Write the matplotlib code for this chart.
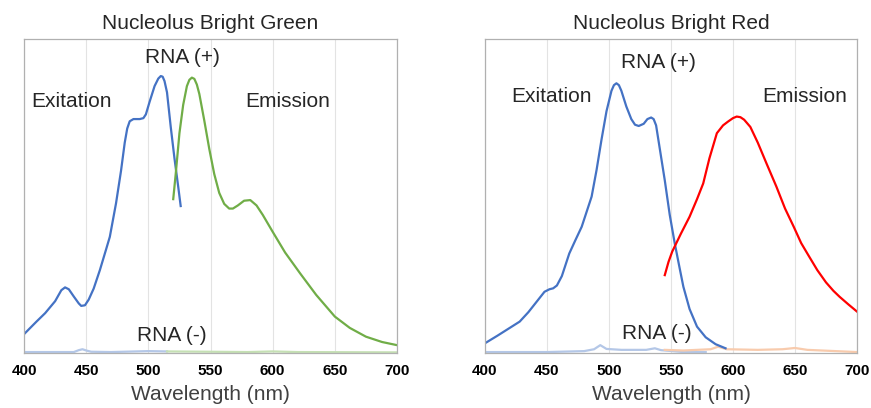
import matplotlib.pyplot as plt

plt.rcParams['font.family'] = ['Liberation Sans', 'DejaVu Sans']

# Nucleolus Bright Green
g_ex_wl = [400, 410, 417, 425, 430, 433, 436, 440, 444, 446, 449, 452, 456, 461, 466, 469, 474,
           478, 481, 483, 485, 488, 493, 496, 498, 501, 505, 508, 510, 511.5, 513, 515, 518, 521,
           524, 526]
g_ex = [0.060, 0.100, 0.127, 0.165, 0.200, 0.209, 0.203, 0.180, 0.158, 0.150, 0.152, 0.170, 0.205,
        0.264, 0.330, 0.370, 0.477, 0.580, 0.670, 0.715, 0.738, 0.745, 0.745, 0.748, 0.760, 0.800,
        0.850, 0.874, 0.882, 0.880, 0.866, 0.830, 0.720, 0.620, 0.530, 0.468]
g_em_wl = [520, 522, 525, 528, 531, 533, 535, 537, 539, 541, 545, 549, 553, 557, 561, 565, 568,
           572, 577, 582, 587, 592, 600, 610, 622, 635, 650, 662, 675, 688, 700]
g_em = [0.490, 0.570, 0.700, 0.790, 0.850, 0.870, 0.877, 0.873, 0.855, 0.825, 0.740, 0.650, 0.570,
        0.510, 0.475, 0.460, 0.460, 0.470, 0.485, 0.487, 0.470, 0.440, 0.386, 0.320, 0.254, 0.185,
        0.116, 0.080, 0.052, 0.035, 0.025]
g_ex_neg_wl = [400, 440, 444, 447, 450, 454, 470, 500, 515]
g_ex_neg = [0.003, 0.003, 0.009, 0.012, 0.008, 0.004, 0.003, 0.006, 0.005]
g_em_neg_wl = [515, 550, 580, 600, 620, 700]
g_em_neg = [0.005, 0.004, 0.003, 0.005, 0.003, 0.002]

# Nucleolus Bright Red
r_ex_wl = [400, 410, 420, 428, 435, 442, 448, 452, 455, 458, 462, 468, 473, 478, 482, 486, 490,
           494, 498, 502, 504, 506, 508, 510, 514, 518, 521, 524, 528, 531, 534, 536, 538, 541,
           545, 549, 553, 557, 560, 565, 571, 578, 586, 594]
r_ex = [0.031, 0.055, 0.080, 0.100, 0.130, 0.165, 0.195, 0.203, 0.206, 0.215, 0.245, 0.317, 0.360,
        0.402, 0.450, 0.498, 0.583, 0.680, 0.770, 0.835, 0.853, 0.859, 0.853, 0.835, 0.785, 0.745,
        0.727, 0.723, 0.730, 0.745, 0.750, 0.745, 0.725, 0.650, 0.550, 0.440, 0.350, 0.270, 0.211,
        0.140, 0.084, 0.050, 0.028, 0.015]
r_em_wl = [545, 548, 551, 558, 565, 571, 576, 581, 587, 592, 596, 600, 603, 606, 609, 614, 620,
           627, 635, 642, 649, 655, 661, 668, 675, 681, 686, 693, 700]
r_em = [0.248, 0.290, 0.323, 0.380, 0.434, 0.490, 0.540, 0.620, 0.700, 0.725, 0.737, 0.748, 0.753,
        0.751, 0.743, 0.720, 0.670, 0.604, 0.530, 0.460, 0.402, 0.350, 0.310, 0.264, 0.225, 0.198,
        0.179, 0.155, 0.132]
r_ex_neg_wl = [400, 450, 480, 488, 493, 498, 510, 530, 537, 542, 560, 578]
r_ex_neg = [0.003, 0.003, 0.006, 0.012, 0.025, 0.013, 0.010, 0.010, 0.015, 0.009, 0.003, 0.003]
r_em_neg_wl = [545, 560, 582, 588, 595, 620, 640, 650, 660, 700]
r_em_neg = [0.010, 0.008, 0.012, 0.020, 0.012, 0.010, 0.012, 0.016, 0.010, 0.003]

xticks = [400, 450, 500, 550, 600, 650, 700]

fig = plt.figure(figsize=(8.71, 4.08), dpi=100)
ax1 = fig.add_axes([0.0276, 0.1348, 0.4282, 0.7696])
ax2 = fig.add_axes([0.5568, 0.1348, 0.4271, 0.7696])

ax1.plot(g_ex_neg_wl, g_ex_neg, color='#b4c7e7', lw=1.6)
ax1.plot(g_em_neg_wl, g_em_neg, color='#c5e0b4', lw=1.6)
ax1.plot(g_ex_wl, g_ex, color='#4472c4', lw=1.6)
ax1.plot(g_em_wl, g_em, color='#70ad47', lw=1.6)

ax2.plot(r_ex_neg_wl, r_ex_neg, color='#b4c7e7', lw=1.6)
ax2.plot(r_em_neg_wl, r_em_neg, color='#f8cbad', lw=1.6)
ax2.plot(r_ex_wl, r_ex, color='#4472c4', lw=1.6)
ax2.plot(r_em_wl, r_em, color='#ff0000', lw=1.6)

for ax, title in [(ax1, 'Nucleolus Bright Green'), (ax2, 'Nucleolus Bright Red')]:
    ax.set_xlim(400, 700)
    ax.set_ylim(0, 1)
    ax.set_xticks(xticks)
    ax.set_yticks([])
    ax.tick_params(axis='x', length=0, pad=8, labelsize=11)
    for lbl in ax.get_xticklabels():
        lbl.set_fontweight('bold')
    ax.grid(axis='x', color='#e3e3e3', lw=0.8)
    ax.set_axisbelow(True)
    for s in ax.spines.values():
        s.set_color('#b0b0b0')
        s.set_linewidth(0.9)
    ax.set_title(title, fontsize=15, color='#262626', pad=7)
    ax.set_xlabel('Wavelength (nm)', fontsize=15, color='#404040', labelpad=5)

txt = dict(fontsize=15, color='#262626', ha='center', va='center')
ax1.text(437.8, 0.80, 'Exitation', **txt)
ax1.text(527.5, 0.941, 'RNA (+)', **txt)
ax1.text(612, 0.80, 'Emission', **txt)
ax1.text(518.5, 0.057, 'RNA (-)', **txt)

ax2.text(453.8, 0.818, 'Exitation', **txt)
ax2.text(539.5, 0.925, 'RNA (+)', **txt)
ax2.text(658, 0.818, 'Emission', **txt)
ax2.text(538.5, 0.063, 'RNA (-)', **txt)

fig.savefig('out.png', dpi=100)
